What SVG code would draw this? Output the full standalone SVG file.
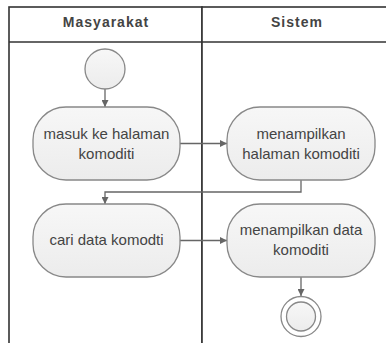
<svg xmlns="http://www.w3.org/2000/svg" width="386" height="343" viewBox="0 0 386 343">
<defs>
<linearGradient id="g" x1="0" y1="0" x2="0" y2="1">
<stop offset="0" stop-color="#f7f7f7"/>
<stop offset="1" stop-color="#ececec"/>
</linearGradient>
<marker id="ah" viewBox="0 0 10 10" refX="10" refY="5" markerWidth="7" markerHeight="7" markerUnits="userSpaceOnUse" orient="auto">
<path d="M0,0 L10,5 L0,10 Z" fill="#666"/>
</marker>
<style>
.lane{fill:#fff;stroke:#333;stroke-width:1.6}
.hdr{font-family:"Liberation Sans",Arial,sans-serif;font-size:14px;font-weight:bold;fill:#444;letter-spacing:1px;text-anchor:middle}
.act{fill:url(#g);stroke:#888;stroke-width:1.3}
.lbl{font-family:"Liberation Sans",Arial,sans-serif;font-size:15px;fill:#444;text-anchor:middle}
.con{fill:none;stroke:#666;stroke-width:1.3;marker-end:url(#ah)}
</style>
</defs>
<g id="swimlanes">
<rect class="lane" x="9" y="7" width="193" height="345"/>
<rect class="lane" x="202" y="7" width="193" height="345"/>
<line x1="9" y1="42" x2="395" y2="42" stroke="#333" stroke-width="1.3"/>
<text class="hdr" x="106" y="27">Masyarakat</text>
<text class="hdr" x="297" y="27">Sistem</text>
</g>
<g id="connectors">
<line class="con" x1="105" y1="89" x2="105" y2="107"/>
<line class="con" x1="180" y1="143.5" x2="227" y2="143.5"/>
<polyline class="con" points="301,180 301,192 105,192 105,204"/>
<line class="con" x1="180" y1="240.5" x2="227" y2="240.5"/>
<line class="con" x1="301" y1="277" x2="301" y2="296"/>
</g>
<g id="start">
<circle cx="105" cy="69" r="20" fill="url(#g)" stroke="#888" stroke-width="1.3"/>
</g>
<g id="masuk">
<rect class="act" x="33" y="107" width="147" height="73" rx="33" ry="33"/>
<text class="lbl" x="106.5" y="139">masuk ke halaman</text>
<text class="lbl" x="106.5" y="159">komoditi</text>
</g>
<g id="tampil-halaman">
<rect class="act" x="227" y="107" width="148" height="73" rx="33" ry="33"/>
<text class="lbl" x="301" y="139">menampilkan</text>
<text class="lbl" x="301" y="159">halaman komoditi</text>
</g>
<g id="cari">
<rect class="act" x="33" y="204" width="147" height="73" rx="33" ry="33"/>
<text class="lbl" x="106.5" y="245">cari data komodti</text>
</g>
<g id="tampil-data">
<rect class="act" x="227" y="204" width="148" height="73" rx="33" ry="33"/>
<text class="lbl" x="301" y="235">menampilkan data</text>
<text class="lbl" x="301" y="255">komoditi</text>
</g>
<g id="end">
<circle cx="301" cy="316.5" r="20" fill="#fff" stroke="#888" stroke-width="1.3"/>
<circle cx="301" cy="316.5" r="14.5" fill="url(#g)" stroke="#888" stroke-width="1.3"/>
</g>
</svg>
